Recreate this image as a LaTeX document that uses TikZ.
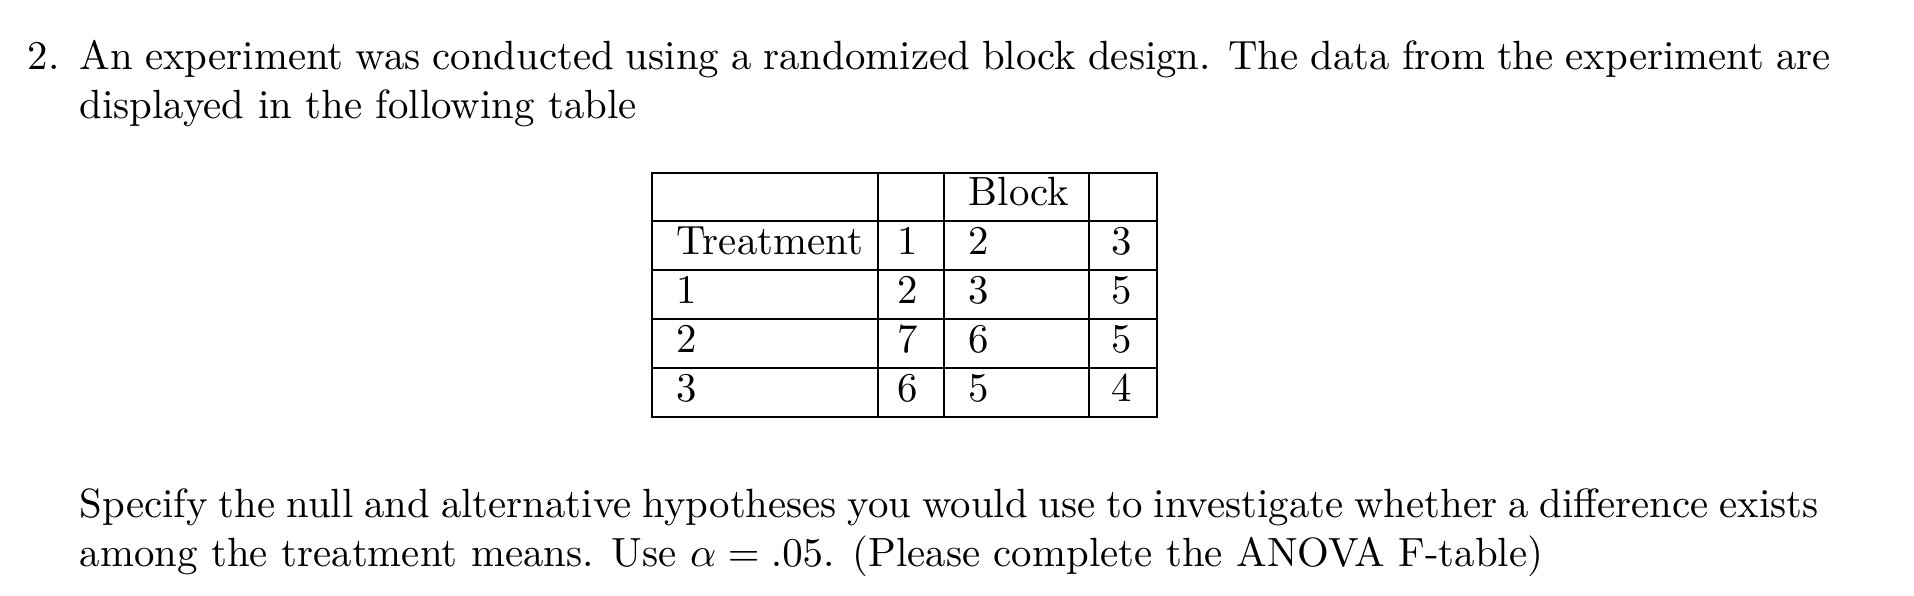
\documentclass[tikz,border=0pt]{standalone}
\begin{document}
\begin{tikzpicture}[x=0.245pt,y=-0.245pt,
  txt/.style={inner sep=0pt},
  lcell/.style={txt,anchor=base west},
  rcell/.style={txt,anchor=base east}]
\useasboundingbox (0,0) rectangle (1914,596);

\node[txt,anchor=base west] (num) at (27,70) {2.};
\node[txt,anchor=north west,text width=429pt,align=justify] (intro) at (79,39)
  {An experiment was conducted using a randomized block design. The data from the experiment are displayed in the following table};

% table grid
\draw (652,173) rectangle (1157,417);
\foreach \y in {221,270,319,368} \draw (652,\y) -- (1157,\y);
\foreach \x in {878,944,1089} \draw (\x,173) -- (\x,417);

\node[lcell] (block) at (968,206) {Block};
\node[lcell] (treat) at (676,255) {Treatment};
\node[rcell] (b1) at (919,255) {1};
\node[lcell] (b2) at (968,255) {2};
\node[rcell] (b3) at (1133,255) {3};
\foreach \t/\a/\b/\c [count=\i] in {1/2/3/5,2/7/6/5,3/6/5/4}{
  \pgfmathsetmacro\yy{255+49*\i}
  \node[lcell] (t\i) at (676,\yy) {\t};
  \node[rcell] (c\i a) at (919,\yy) {\a};
  \node[lcell] (c\i b) at (968,\yy) {\b};
  \node[rcell] (c\i c) at (1133,\yy) {\c};
}

\node[txt,anchor=north west,text width=426pt,align=justify] (task) at (79,488)
  {Specify the null and alternative hypotheses you would use to investigate whether a difference exists among the treatment means. Use $\alpha=.05$. (Please complete the ANOVA F-table)};
\end{tikzpicture}
\end{document}
